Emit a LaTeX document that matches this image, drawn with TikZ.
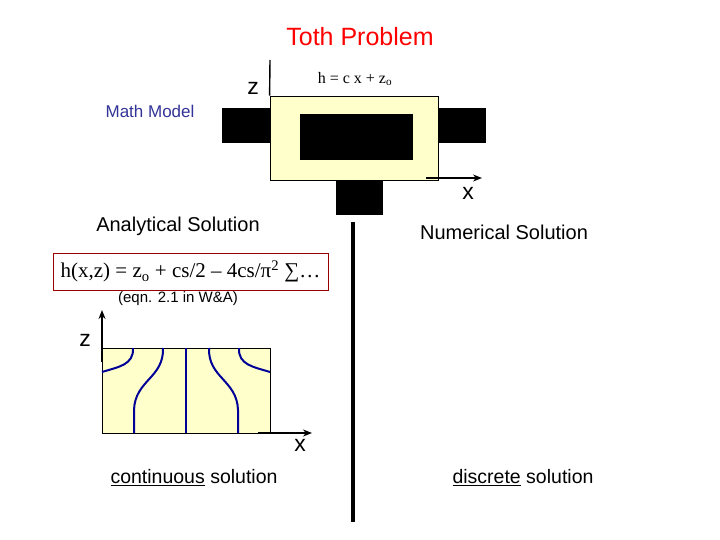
\documentclass[tikz,border=0pt]{standalone}
\usepackage{fontspec}
\setmainfont{Liberation Sans}
\newfontfamily\serifx{Liberation Serif}
\usetikzlibrary{arrows.meta}
\definecolor{pale}{RGB}{255,255,204}
\definecolor{tred}{RGB}{255,0,0}
\definecolor{mblue}{RGB}{51,51,153}
\definecolor{cblue}{RGB}{0,0,153}
\tikzset{blk/.style={fill=black,draw=none},
 ax/.style={line width=1.6pt,-{Stealth[length=9pt,width=7pt]}},
 lbl/.style={inner sep=0pt,anchor=center},
 curve/.style={cblue,line width=2pt}}
\begin{document}
\begin{tikzpicture}[x=1pt,y=-1pt]
\useasboundingbox (0,0) rectangle (720,540);
% top model
\fill[blk] (222,108) rectangle (270,143);
\fill[blk] (438,108) rectangle (486,143);
\fill[blk] (336,180) rectangle (383,215);
\node (box) [draw=black,fill=pale,minimum width=168pt,minimum height=84pt,inner sep=0pt,line width=0.8pt] at (354,138) {};
\fill[blk] (300,114) rectangle (413,160);
\coordinate (zt) at (270,60);
\coordinate (xs) at (426,178);
\coordinate (xe) at (482,178);
\draw[line width=1.4pt] (box.north west) -- (zt);
\draw[ax] (xs) -- (xe);
\node[lbl,font=\fontsize{23}{23}\selectfont] (ztop) at (253,88) {z};
\node[lbl,font=\fontsize{23}{23}\selectfont] (xtop) at (468,193) {x};
\node[lbl,font=\serifx\fontsize{16}{16}\selectfont] (hl) at (355,79) {h = c x + z\textsubscript{o}};
\node[lbl,tred,font=\fontsize{25}{25}\selectfont] (title) at (360,37) {Toth Problem};
\node[lbl,mblue,font=\fontsize{17}{17}\selectfont] (mm) at (150,111) {Math Model};
\node[lbl,font=\fontsize{20}{20}\selectfont] (an) at (178,226) {Analytical Solution};
\node[lbl,font=\fontsize{20}{20}\selectfont] (nu) at (504,232) {Numerical Solution};
% divider
\coordinate (v1) at (353,222);
\coordinate (v2) at (353,522);
\draw[line width=3.5pt] (v1) -- (v2);
% equation
\node (eq) [draw=tred!60!black,line width=0.8pt,minimum width=275pt,minimum height=37pt,inner sep=0pt,font=\serifx\fontsize{21}{21}\selectfont] at (190.5,271.5) {h(x,z) = z\textsubscript{o} + cs/2 – 4cs/π\textsuperscript{2} ∑…};
\node[lbl,font=\fontsize{15}{15}\selectfont] (ref) at (178,299) {(eqn. 2.1 in W\&A)};
% lower plot
\node (pl) [draw=black,fill=pale,minimum width=168pt,minimum height=85pt,inner sep=0pt,line width=0.8pt] at (186,390.5) {};
\coordinate (pz1) at (102,362);
\coordinate (pz2) at (102,310);
\coordinate (px1) at (258,433);
\coordinate (px2) at (312,433);
\draw[ax] (pz1) -- (pz2);
\draw[ax] (px1) -- (px2);
\node[lbl,font=\fontsize{23}{23}\selectfont] (zl) at (85,340) {z};
\node[lbl,font=\fontsize{23}{23}\selectfont] (xl) at (300,445) {x};
\draw[curve] (186,348) -- (186,433);
\draw[curve] (133,348) .. controls (134,365) and (118,367) .. (102,372);
\draw[curve] (239,348) .. controls (238,365) and (254,367) .. (270,372);
\draw[curve] (163,348) .. controls (164,378) and (135,380) .. (134,410) -- (134,433);
\draw[curve] (209,348) .. controls (208,378) and (237,380) .. (238,410) -- (238,433);
\node[lbl,font=\fontsize{19.5}{19.5}\selectfont] (cs) at (194,478) {\underline{continuous} solution};
\node[lbl,font=\fontsize{19.5}{19.5}\selectfont] (ds) at (523,478) {\underline{discrete} solution};
\end{tikzpicture}
\end{document}
